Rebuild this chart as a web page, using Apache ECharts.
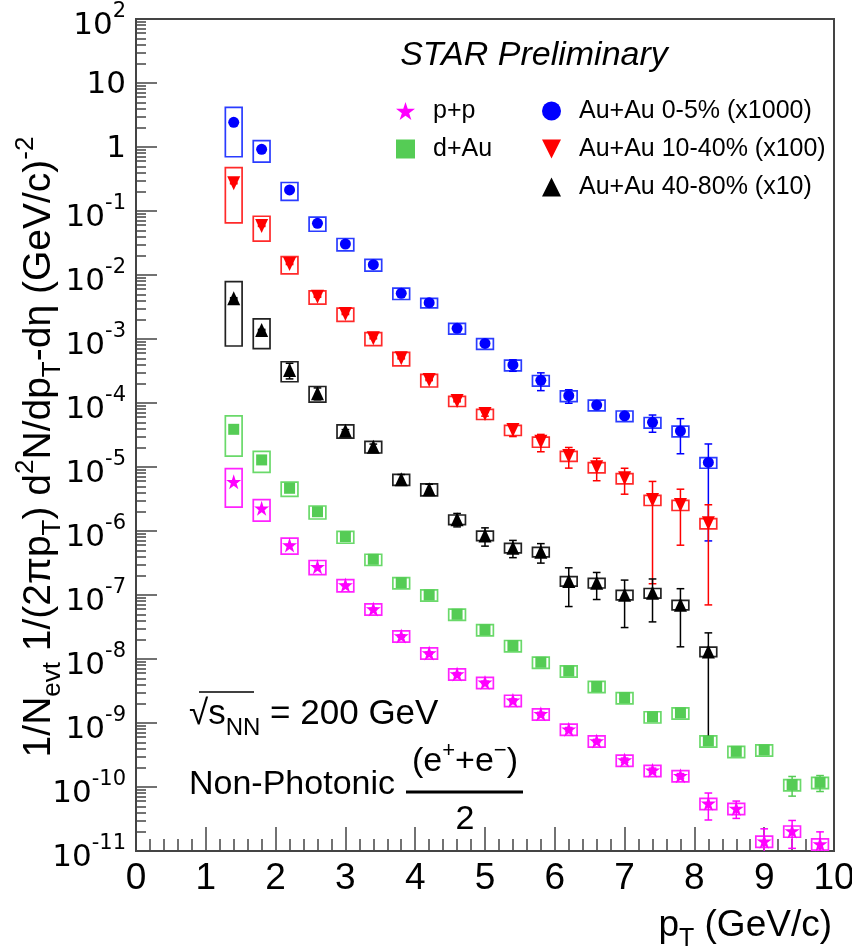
<!DOCTYPE html>
<html>
<head>
<meta charset="utf-8">
<script src="https://cdn.jsdelivr.net/npm/echarts@6/dist/echarts.min.js"></script>
<style>
html,body{margin:0;padding:0;background:#fff;}
#main{width:852px;height:949px;}
</style>
</head>
<body>
<div id="main"></div>
<script>
// ---------- data ----------
const pT = [1.4, 1.8, 2.2, 2.6, 3.0, 3.4, 3.8, 4.2, 4.6, 5.0, 5.4, 5.8, 6.2, 6.6, 7.0, 7.4, 7.8, 8.2, 8.6, 9.0, 9.4, 9.8];

// Au+Au 0-5% (x1000)
const auau0_5 = [2.43, 0.92, 0.213, 0.0643, 0.0305, 0.0145, 0.00518, 0.00369, 0.00147, 0.000851, 0.000393, 0.000226, 0.000130, 9.3e-5, 6.3e-5, 4.99e-5, 3.65e-5, 1.18e-5];
const auau0_5Stat = [0.05, 0.02, 0.005, 0.0015, 0.0007, 0.0003, 0.00012, 0.00009, 0.00006, 0.00004, 8e-5, 7e-5, 3.1e-5, 8e-6, 5e-6, 1.5e-5, 2.04e-5, 1.11e-5];
const auau0_5Sys = [0.71, 0.37, 0.31, 0.25, 0.22, 0.21, 0.20, 0.17, 0.19, 0.19, 0.19, 0.19, 0.19, 0.19, 0.19, 0.19, 0.19, 0.19];

// Au+Au 10-40% (x100)
const auau10_40 = [0.271, 0.0583, 0.01486, 0.00458, 0.00246, 0.001026, 0.000499, 0.000229, 0.0001075, 6.73e-5, 3.79e-5, 2.48e-5, 1.49e-5, 9.9e-6, 6.66e-6, 3.05e-6, 2.55e-6, 1.32e-6];
const auau10_40Stat = [0.005, 0.001, 0.0003, 0.0001, 0.00005, 0.00002, 0.00001, 5e-6, 3e-6, 5e-6, 8e-6, 7.5e-6, 5.3e-6, 3.8e-6, 2.9e-6, 2.9e-6, 1.95e-6, 1.25e-6];
const auau10_40Sys = [0.76, 0.42, 0.30, 0.235, 0.236, 0.23, 0.236, 0.224, 0.18, 0.18, 0.18, 0.18, 0.18, 0.18, 0.18, 0.18, 0.18, 0.18];

// Au+Au 40-80% (x10)
const auau40_80 = [0.00432, 0.001383, 3.28e-4, 1.42e-4, 3.69e-5, 2.08e-5, 6.43e-6, 4.49e-6, 1.52e-6, 8.5e-7, 5.48e-7, 4.75e-7, 1.66e-7, 1.55e-7, 1.01e-7, 1.08e-7, 7.05e-8, 1.31e-8];
const auau40_80Stat = [0.0001, 3e-5, 9e-5, 3e-5, 1.5e-6, 2e-6, 1.2e-6, 8.8e-7, 3.6e-7, 2.7e-7, 1.65e-7, 1.6e-7, 1.0e-7, 7e-8, 7e-8, 7e-8, 5.5e-8, 1.25e-8];
const auau40_80Sys = [0.82, 0.49, 0.345, 0.275, 0.236, 0.205, 0.195, 0.21, 0.17, 0.17, 0.17, 0.17, 0.17, 0.17, 0.17, 0.17, 0.17, 0.17];

// d+Au
const dAu = [3.88e-5, 1.29e-5, 4.65e-6, 2.0e-6, 8.15e-7, 3.61e-7, 1.56e-7, 1.0e-7, 5.0e-8, 2.87e-8, 1.62e-8, 8.9e-9, 6.5e-9, 3.72e-9, 2.49e-9, 1.25e-9, 1.44e-9, 5.25e-10, 3.6e-10, 3.8e-10, 1.09e-10, 1.18e-10];
const dAuStat = [1e-6, 3e-7, 1e-7, 4e-8, 1.6e-8, 7e-9, 3e-9, 2e-9, 1e-9, 6e-10, 3e-10, 1.8e-10, 1.3e-10, 7e-11, 5e-11, 2.5e-11, 3e-11, 1.5e-11, 1.2e-11, 1.2e-11, 3.7e-11, 3.3e-11];
const dAuSys = [0.62, 0.36, 0.25, 0.23, 0.21, 0.2, 0.2, 0.2, 0.2, 0.2, 0.2, 0.2, 0.2, 0.2, 0.2, 0.2, 0.2, 0.2, 0.2, 0.2, 0.2, 0.2];

// p+p
const pp = [5.89e-6, 2.26e-6, 6.04e-7, 2.77e-7, 1.43e-7, 6.04e-8, 2.29e-8, 1.24e-8, 5.83e-9, 4.31e-9, 2.26e-9, 1.39e-9, 8.0e-10, 5.25e-10, 2.63e-10, 1.82e-10, 1.50e-10, 5.55e-11, 4.63e-11, 1.42e-11, 2.05e-11, 1.29e-11];
const ppStat = [1e-7, 5e-8, 1.5e-8, 8e-9, 4e-9, 2e-9, 1e-9, 5e-10, 3e-10, 2e-10, 1.2e-10, 8e-11, 5e-11, 3e-11, 2e-11, 1.5e-11, 1.2e-11, 2.5e-11, 1.4e-11, 8e-12, 9.5e-12, 7e-12];
const ppSys = [0.6, 0.37, 0.28, 0.25, 0.22, 0.2, 0.2, 0.2, 0.2, 0.2, 0.2, 0.2, 0.2, 0.2, 0.2, 0.2, 0.2, 0.2, 0.2, 0.2, 0.2, 0.2];

// axis ticks
const xTicks = [0, 1, 2, 3, 4, 5, 6, 7, 8, 9, 10];
const yExponents = [-11, -10, -9, -8, -7, -6, -5, -4, -3, -2, -1, 0, 1, 2];

// ---------- styling ----------
const FONT = "'Liberation Sans', Arial, Helvetica, sans-serif";
const YMIN = 1e-11, YMAX = 100;
const BOXW = 0.12;   // half width of sys box in pT units
const CAPW = 0.055;  // half width of error caps in pT units
const STAR = 'path://M50,2 L61.8,38.2 L99.9,38.2 L69.1,60.6 L80.9,96.8 L50,74.4 L19.1,96.8 L30.9,60.6 L0.1,38.2 L38.2,38.2 Z';
const TRI_DOWN = 'path://M0,0 L10,0 L5,10 Z';
const TRI_UP = 'path://M5,0 L10,10 L0,10 Z';

const yMajor = yExponents.map(e => Math.pow(10, e));
const yMinor = [];
yExponents.forEach(e => { if (e < 2) for (let k = 2; k <= 9; k++) yMinor.push(k * Math.pow(10, e)); });

function errRender(color, boxColor) {
  return function (params, api) {
    const x = api.value(0), y = api.value(1), e = api.value(2), r = api.value(3);
    const p = api.coord([x, y]);
    const hiV = Math.min(y + e, YMAX);
    const loV = Math.max(y - e, YMIN);
    const hi = api.coord([x, hiV]);
    const lo = api.coord([x, loV]);
    const b0 = api.coord([x - BOXW, y * (1 + r)]);
    const b1 = api.coord([x + BOXW, Math.max(y * (1 - r), YMIN)]);
    const c0 = api.coord([x - CAPW, y])[0];
    const c1 = api.coord([x + CAPW, y])[0];
    const children = [
      { type: 'rect', shape: { x: b0[0], y: b0[1], width: b1[0] - b0[0], height: b1[1] - b0[1] },
        style: { fill: 'none', stroke: boxColor, lineWidth: 1.7 } },
      { type: 'line', shape: { x1: p[0], y1: hi[1], x2: p[0], y2: lo[1] },
        style: { stroke: color, lineWidth: 1.5 } },
      { type: 'line', shape: { x1: c0, y1: hi[1], x2: c1, y2: hi[1] },
        style: { stroke: color, lineWidth: 1.5 } }
    ];
    if (y - e > YMIN) {
      children.push({ type: 'line', shape: { x1: c0, y1: lo[1], x2: c1, y2: lo[1] },
        style: { stroke: color, lineWidth: 1.5 } });
    }
    return { type: 'group', children: children };
  };
}

function makeSeries(name, vals, stat, sys, color, boxColor, symbol, size) {
  const xs = pT.slice(0, vals.length);
  return [
    {
      name: name + ' errors',
      type: 'custom',
      coordinateSystem: 'cartesian2d',
      renderItem: errRender(color, boxColor),
      data: xs.map((x, i) => [x, vals[i], stat[i], sys[i]]),
      encode: { x: 0, y: 1 },
      z: 2,
      silent: true
    },
    {
      name: name,
      type: 'scatter',
      symbol: symbol,
      symbolSize: size,
      itemStyle: { color: color, opacity: 1 },
      data: xs.map((x, i) => [x, vals[i]]),
      z: 5,
      silent: true
    }
  ];
}

const series = [].concat(
  makeSeries('p+p', pp, ppStat, ppSys, '#ff00ff', '#ff22ff', STAR, 15),
  makeSeries('d+Au', dAu, dAuStat, dAuSys, '#55cc55', '#6ad96a', 'rect', 11),
  makeSeries('Au+Au 0-5% (x1000)', auau0_5, auau0_5Stat, auau0_5Sys, '#0000ff', '#2a3cff', 'circle', 11),
  makeSeries('Au+Au 10-40% (x100)', auau10_40, auau10_40Stat, auau10_40Sys, '#ff0000', '#ff2a2a', TRI_DOWN, [13, 14]),
  makeSeries('Au+Au 40-80% (x10)', auau40_80, auau40_80Stat, auau40_80Sys, '#000000', '#222222', TRI_UP, [13, 14])
);

const legendText = { fontSize: 25, lineHeight: 26, fontFamily: FONT, color: '#000', padding: [0, 0, 0, 13] };

const option = {
  animation: false,
  backgroundColor: '#ffffff',
  grid: { left: 136, right: 18, top: 19, bottom: 98, show: true, borderColor: '#444', borderWidth: 2,
    containLabel: false, outerBoundsMode: 'none' },
  legend: [
    { data: ['p+p', 'd+Au'], orient: 'vertical', left: 391, top: 93, itemWidth: 19, itemHeight: 19, itemGap: 12,
      textStyle: legendText, selectedMode: false },
    { data: ['Au+Au 0-5% (x1000)', 'Au+Au 10-40% (x100)', 'Au+Au 40-80% (x10)'], orient: 'vertical', left: 537, top: 93,
      itemWidth: 19, itemHeight: 19, itemGap: 12, textStyle: legendText, selectedMode: false }
  ],
  xAxis: {
    type: 'value', min: 0, max: 10, interval: 1,
    axisLine: { show: true, lineStyle: { color: '#444', width: 2 } },
    axisTick: { show: true, inside: true, length: 24, lineStyle: { color: '#444', width: 1.5 } },
    minorTick: { show: true, splitNumber: 5, length: 12, lineStyle: { color: '#444', width: 1.5 } },
    axisLabel: { fontSize: 37, fontFamily: FONT, color: '#000', margin: 9, showMinLabel: true, showMaxLabel: true,
      customValues: xTicks },
    splitLine: { show: false },
    name: '{m|p}{sub|T}{m| (GeV/c)}',
    nameLocation: 'end',
    nameGap: -2,
    nameMoveOverlap: false,
    nameTextStyle: {
      align: 'right', verticalAlign: 'top', padding: [48, 0, 0, 0],
      rich: {
        m: { fontSize: 37, fontFamily: FONT, color: '#000', verticalAlign: 'middle' },
        sub: { fontSize: 25, fontFamily: FONT, color: '#000', padding: [28, 0, 0, 0], verticalAlign: 'middle' }
      }
    }
  },
  yAxis: [
    {
      type: 'log', logBase: 10, min: YMIN, max: YMAX, position: 'left',
      axisLine: { show: true, lineStyle: { color: '#444', width: 2 } },
      axisTick: { show: true, inside: true, length: 21, customValues: yMajor, lineStyle: { color: '#444', width: 1.5 } },
      axisLabel: {
        customValues: yMajor, margin: 10, color: '#000',
        formatter: function (v) {
          const e = Math.round(Math.log10(v));
          if (e === 0) return '{c|1}';
          if (e === 1) return '{c|10}';
          return '{b|10}{s|' + e + '}';
        },
        rich: {
          b: { fontSize: 31, fontFamily: "'DejaVu Sans', sans-serif", color: '#000', verticalAlign: 'middle', padding: [14, 0, 0, 0] },
          s: { fontSize: 21, fontFamily: "'DejaVu Sans', sans-serif", color: '#000', verticalAlign: 'middle', padding: [0, 0, 14, 0] },
          c: { fontSize: 31, fontFamily: "'DejaVu Sans', sans-serif", color: '#000', verticalAlign: 'middle', padding: [4, 0, 0, 0] }
        }
      },
      splitLine: { show: false },
      name: '{m|1/N}{sub|evt}{m| 1/(2πp}{sub|T}{m|) d}{sup|2}{m|N/dp}{sub|T}{m|-dη (GeV/c)}{sup|-2}',
      nameLocation: 'middle',
      nameRotate: 90,
      nameGap: 70,
      nameMoveOverlap: false,
      nameTextStyle: {
        padding: [0, 24, 0, 0],
        rich: {
          m: { fontSize: 39, fontFamily: FONT, color: '#000', verticalAlign: 'middle' },
          sub: { fontSize: 26, fontFamily: FONT, color: '#000', verticalAlign: 'middle', padding: [28, 0, 0, 0] },
          sup: { fontSize: 26, fontFamily: FONT, color: '#000', verticalAlign: 'middle', padding: [0, 0, 26, 0] }
        }
      }
    },
    {
      type: 'log', logBase: 10, min: YMIN, max: YMAX, position: 'left',
      axisLine: { show: false },
      axisTick: { show: true, inside: true, length: 10, customValues: yMinor, lineStyle: { color: '#444', width: 1.5 } },
      axisLabel: { show: false },
      splitLine: { show: false }
    }
  ],
  graphic: [
    { type: 'text', x: 534, y: 56, z: 10,
      style: { text: 'STAR Preliminary', fontSize: 34, fontStyle: 'italic', fontFamily: FONT, fill: '#000', align: 'center', verticalAlign: 'middle' } },
    { type: 'text', x: 189, y: 714, z: 10,
      style: { text: '{a|√}{a|s}{sub|NN}{a| = 200 GeV}', verticalAlign: 'middle', align: 'left',
        rich: {
          a: { fontSize: 35, fontFamily: FONT, fill: '#000', verticalAlign: 'middle' },
          sub: { fontSize: 24, fontFamily: FONT, fill: '#000', verticalAlign: 'middle', padding: [28, 0, 0, 0] }
        } } },
    { type: 'line', z: 10, shape: { x1: 199, y1: 692, x2: 254, y2: 692 }, style: { stroke: '#000', lineWidth: 1.5 } },
    { type: 'text', x: 189, y: 785, z: 10,
      style: { text: 'Non-Photonic', fontSize: 34, fontFamily: FONT, fill: '#000', align: 'left', verticalAlign: 'middle' } },
    { type: 'text', x: 465, y: 762, z: 10,
      style: { text: '{a|(e}{sup|+}{a|+e}{sup|−}{a|)}', align: 'center', verticalAlign: 'middle',
        rich: {
          a: { fontSize: 34, fontFamily: FONT, fill: '#000', verticalAlign: 'middle' },
          sup: { fontSize: 22, fontFamily: FONT, fill: '#000', verticalAlign: 'middle', padding: [0, 0, 22, 0] }
        } } },
    { type: 'line', z: 10, shape: { x1: 406, y1: 792, x2: 523, y2: 792 }, style: { stroke: '#000', lineWidth: 3 } },
    { type: 'text', x: 465, y: 820, z: 10,
      style: { text: '2', fontSize: 34, fontFamily: FONT, fill: '#000', align: 'center', verticalAlign: 'middle' } }
  ],
  series: series
};

const chart = echarts.init(document.getElementById('main'), null, { renderer: 'canvas' });
chart.setOption(option);
</script>
</body>
</html>
